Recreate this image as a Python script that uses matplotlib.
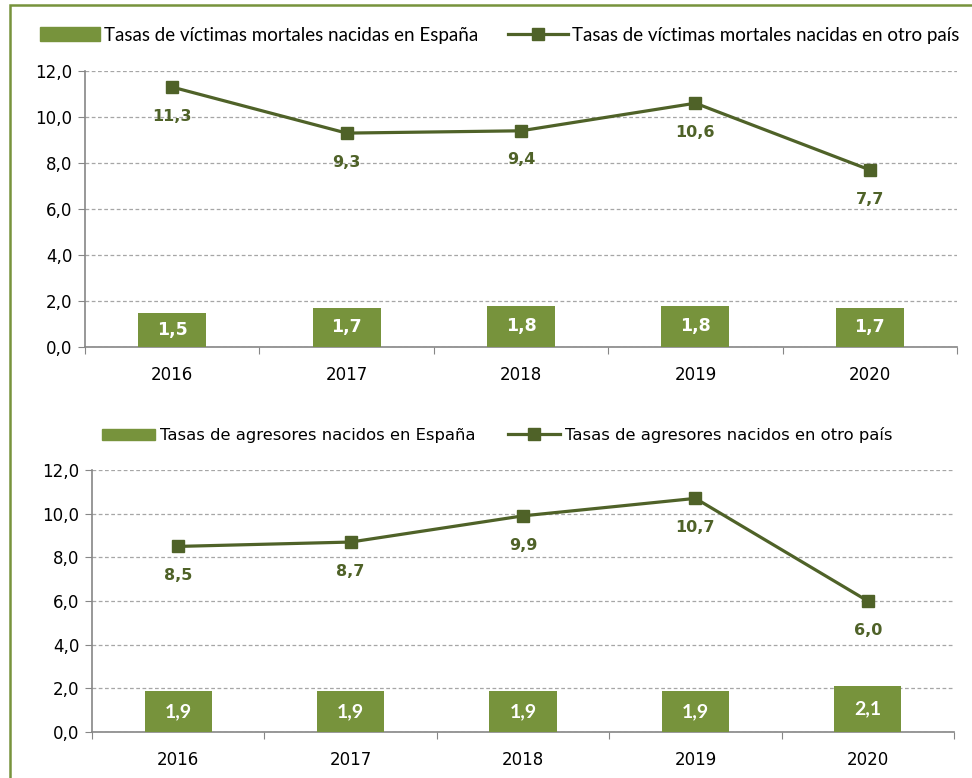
#!/usr/bin/env python3
# Tasas de víctimas mortales y agresores según país de nacimiento, 2016-2020
import matplotlib
matplotlib.use("Agg")
import matplotlib.pyplot as plt
from matplotlib.patches import Rectangle
from matplotlib.lines import Line2D
from matplotlib.ticker import FixedLocator, NullFormatter, FixedFormatter
import numpy as np

BAR_COLOR = "#77933C"
LINE_COLOR = "#4F6228"
SPINE_COLOR = "#868686"
GRID_COLOR = "#A6A6A6"

years = ["2016", "2017", "2018", "2019", "2020"]

victimas_espana = [1.5, 1.7, 1.8, 1.8, 1.7]
victimas_otro = [11.3, 9.3, 9.4, 10.6, 7.7]
victimas_labels = ["Tasas de víctimas mortales nacidas en España",
                   "Tasas de víctimas mortales nacidas en otro país"]

agresores_espana = [1.9, 1.9, 1.9, 1.9, 2.1]
agresores_otro = [8.5, 8.7, 9.9, 10.7, 6.0]
agresores_labels = ["Tasas de agresores nacidos en España",
                    "Tasas de agresores nacidos en otro país"]


def fmt(v):
    return f"{v:.1f}".replace(".", ",")


def panel(ax, bars, line, barfont, barsize):
    x = np.arange(len(years))
    ax.bar(x, bars, width=0.39, color=BAR_COLOR, zorder=3)
    ax.plot(x, line, color=LINE_COLOR, lw=2.3, marker="s", ms=8,
            zorder=4)
    for xi, v in zip(x, bars):
        ax.text(xi, v / 2, fmt(v), ha="center", va="center", color="white",
                fontsize=barsize, fontweight="bold", family=barfont, zorder=5)
    for xi, v in zip(x, line):
        ax.annotate(fmt(v), (xi, v), xytext=(0, -21), textcoords="offset points",
                    ha="center", va="center", color=LINE_COLOR, fontsize=11.5,
                    fontweight="bold", family="DejaVu Sans", zorder=5)

    ax.set_xlim(-0.5, len(years) - 0.5)
    ax.set_ylim(0, 12)
    ax.set_yticks(np.arange(0, 13, 2))
    ax.set_yticklabels([fmt(v) for v in np.arange(0, 13, 2)], fontsize=12)
    ax.xaxis.set_major_locator(FixedLocator(np.arange(-0.5, len(years), 1)))
    ax.xaxis.set_major_formatter(NullFormatter())
    ax.xaxis.set_minor_locator(FixedLocator(x))
    ax.xaxis.set_minor_formatter(FixedFormatter(years))
    ax.tick_params(axis="x", which="major", length=5, color=SPINE_COLOR)
    ax.tick_params(axis="x", which="minor", length=0, pad=14, labelsize=12)
    ax.tick_params(axis="y", length=5, color=SPINE_COLOR, pad=4)

    ax.grid(axis="y", color=GRID_COLOR, ls=(0, (3, 2)), lw=0.9, zorder=0)
    for s in ["top", "right"]:
        ax.spines[s].set_visible(False)
    for s in ["left", "bottom"]:
        ax.spines[s].set_color(SPINE_COLOR)
        ax.spines[s].set_linewidth(1.2)


fig = plt.figure(figsize=(9.72, 7.78), dpi=100)

# marco verde alrededor del gráfico
fig.add_artist(Rectangle((10 / 972, -0.05), 1.0, 1 - 5 / 778 + 0.05,
                         transform=fig.transFigure, fill=False,
                         edgecolor=BAR_COLOR, lw=1.8))

ax1 = fig.add_axes([85 / 972, 1 - 347 / 778, (957 - 85) / 972, (347 - 71) / 778])
panel(ax1, victimas_espana, victimas_otro, "DejaVu Sans", 12.5)

ax2 = fig.add_axes([92 / 972, 1 - 732 / 778, (954 - 92) / 972, (732 - 470) / 778])
panel(ax2, agresores_espana, agresores_otro, "Lato", 14)

h_bar = Rectangle((0, 0), 1, 1, color=BAR_COLOR)
h_line = Line2D([], [], color=LINE_COLOR, lw=2.3, marker="s", ms=8)

fig.legend([h_bar, h_line], victimas_labels, loc="center",
           bbox_to_anchor=(0.514, 1 - 35 / 778), ncol=2, frameon=False,
           prop={"family": "Lato", "size": 13.5}, columnspacing=1.6,
           handlelength=3.2, handletextpad=0.2)
fig.legend([h_bar, h_line], agresores_labels, loc="center",
           bbox_to_anchor=(0.512, 1 - 435 / 778), ncol=2, frameon=False,
           prop={"family": "DejaVu Sans", "size": 11.8}, columnspacing=2.0,
           handlelength=3.2, handletextpad=0.3)

fig.savefig("out.png", dpi=100)
